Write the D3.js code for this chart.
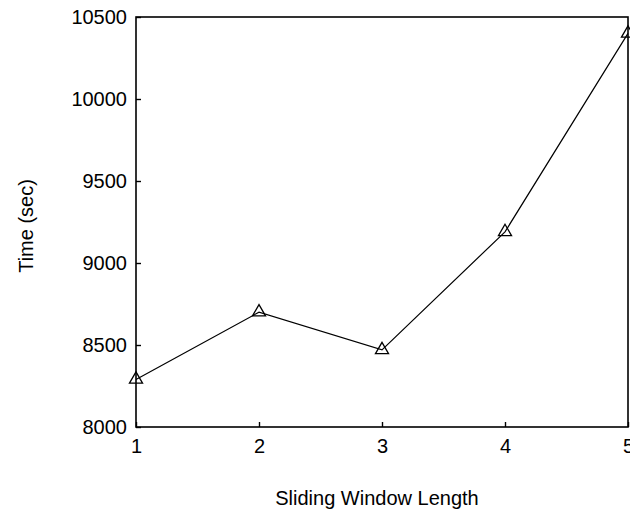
<!DOCTYPE html>
<html>
<head>
<meta charset="utf-8">
<script src="https://cdn.jsdelivr.net/npm/d3@7"></script>
<style>
  html, body { margin: 0; padding: 0; background: #fff; }
  svg text { font-family: "Liberation Sans", Arial, sans-serif; fill: #000; }
</style>
</head>
<body>
<svg id="chart" width="630" height="513"></svg>
<script>
// Run time against sliding window length
const windowLengths = [1, 2, 3, 4, 5];
const timeSec = [8290, 8700, 8470, 9190, 10400];
const xTicks = [1, 2, 3, 4, 5];
const yTicks = [8000, 8500, 9000, 9500, 10000, 10500];

const svg = d3.select("#chart");
const margin = { left: 136, top: 17, right: 2, bottom: 86 };
const W = 630, H = 513;

const x = d3.scaleLinear().domain([1, 5]).range([margin.left, W - margin.right]);
const y = d3.scaleLinear().domain([8000, 10500]).range([H - margin.bottom, margin.top]);

// Frame around the plot area
svg.append("rect")
  .attr("x", x(1)).attr("y", y(10500))
  .attr("width", x(5) - x(1)).attr("height", y(8000) - y(10500))
  .attr("fill", "none").attr("stroke", "#000").attr("stroke-width", 1.6);

// Axes with inward ticks
const yAxis = d3.axisLeft(y).tickValues(yTicks).tickSize(-5).tickPadding(9).tickFormat(d3.format("d"));
const gy = svg.append("g").attr("transform", `translate(${x(1)},0)`).call(yAxis);
gy.select(".domain").remove();
gy.selectAll("text").attr("font-size", 20).attr("font-family", "Liberation Sans, Arial, sans-serif");
gy.selectAll("line").attr("stroke-width", 1.4);

const xAxis = d3.axisBottom(x).tickValues(xTicks).tickSize(-5).tickPadding(12).tickFormat(d3.format("d"));
const gx = svg.append("g").attr("transform", `translate(0,${y(8000)})`).call(xAxis);
gx.select(".domain").remove();
gx.selectAll("text").attr("font-size", 20).attr("font-family", "Liberation Sans, Arial, sans-serif");
gx.selectAll("line").attr("stroke-width", 1.4);

// Axis titles
svg.append("text")
  .attr("x", 377).attr("y", 505)
  .attr("text-anchor", "middle").attr("font-size", 20)
  .text("Sliding Window Length");

svg.append("text")
  .attr("transform", "translate(33,226) rotate(-90)")
  .attr("text-anchor", "middle").attr("font-size", 20)
  .text("Time (sec)");

// Data line
const pts = windowLengths.map((d, i) => [d, timeSec[i]]);
svg.append("path")
  .datum(pts)
  .attr("fill", "none").attr("stroke", "#000").attr("stroke-width", 1.2)
  .attr("d", d3.line().x(d => x(d[0])).y(d => y(d[1])));

// Open triangle markers
const tri = d3.symbol().type(d3.symbolTriangle).size(74);
svg.append("g").selectAll("path")
  .data(pts).join("path")
  .attr("transform", d => `translate(${x(d[0])},${y(d[1])})`)
  .attr("d", tri)
  .attr("fill", "none").attr("stroke", "#000").attr("stroke-width", 1.3);
</script>
</body>
</html>
